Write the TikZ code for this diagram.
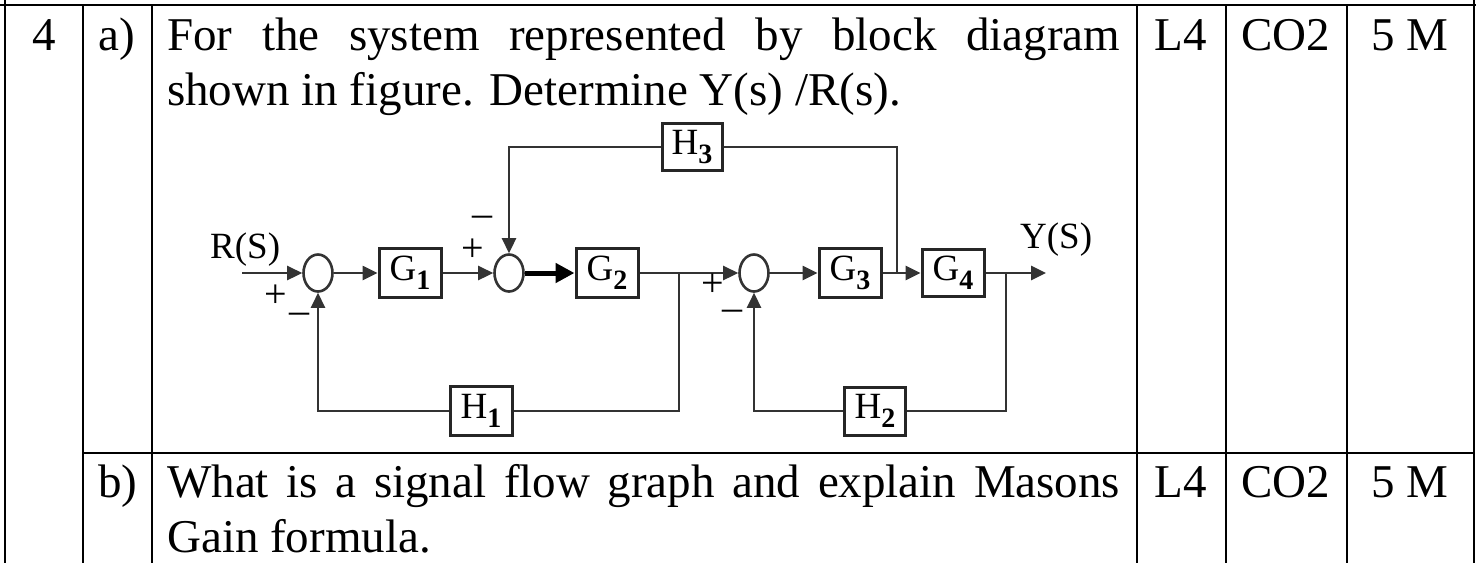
\documentclass[tikz,border=0pt]{standalone}
\usepackage{fontspec}
\setmainfont{Liberation Serif}
\usetikzlibrary{arrows.meta,shapes.geometric}
\newcommand\blklabel[2]{#1\raisebox{-9pt}{\fontsize{28}{28}\selectfont\bfseries #2}}
\begin{document}
\begin{tikzpicture}[x=1pt,y=-1pt,
  tline/.style={line width=2.4pt, draw=black},
  body/.style={font=\fontsize{47}{55}\selectfont, inner sep=0pt, anchor=base west},
  bodyc/.style={font=\fontsize{47}{55}\selectfont, inner sep=0pt, anchor=base},
  wire/.style={line width=2.6pt, draw=black!80},
  arr/.style={wire, -{Triangle[length=15pt,width=14pt]}},
  thickarr/.style={line width=5pt, draw=black, -{Triangle[length=19pt,width=19pt]}},
  block/.style={draw=black!85, line width=3pt, minimum width=62pt, minimum height=49pt, inner sep=0pt, font=\fontsize{37}{37}\selectfont, fill=white},
  sumj/.style={ellipse, draw=black!80, line width=2.6pt, minimum width=29pt, minimum height=37pt, inner sep=0pt},
  sign/.style={font=\fontsize{40}{40}\selectfont, inner sep=0pt},
  sig/.style={font=\fontsize{37}{37}\selectfont, inner sep=0pt, anchor=base west}]
\useasboundingbox (0,0) rectangle (1476,563);
% table rules
\draw[tline] (0,5) -- (1476,5);
\draw[tline] (5,0) -- (5,563);
\draw[tline] (83,5) -- (83,563);
\draw[tline] (152,5) -- (152,563);
\draw[tline] (1137,5) -- (1137,563);
\draw[tline] (1226,5) -- (1226,563);
\draw[tline] (1347,5) -- (1347,563);
\draw[tline] (1474,0) -- (1474,563);
\draw[tline] (83,453) -- (1474,453);
% table texts
\node[bodyc] (qno) at (44,50) {4};
\node[body] (qa) at (98,50) {a)};
\node[body] (qa1) at (167,50) {\makebox[953pt][s]{For the system represented by block diagram}};
\node[body] (qa2) at (167,105) {shown in figure. Determine Y(s) /R(s).};
\node[bodyc] (la) at (1181,50) {L4};
\node[bodyc] (ca) at (1286,50) {CO2};
\node[bodyc] (ma) at (1410,50) {5 M};
\node[body] (qb) at (98,497) {b)};
\node[body] (qb1) at (167,497) {\makebox[953pt][s]{What is a signal flow graph and explain Masons}};
\node[body] (qb2) at (167,552) {Gain formula.};
\node[bodyc] (lb) at (1181,497) {L4};
\node[bodyc] (cb) at (1286,497) {CO2};
\node[bodyc] (mb) at (1410,497) {5 M};
% block diagram
\coordinate (in) at (242,273);
\node[sumj] (J1) at (318,273) {};
\node[block] (G1) at (410,273) {\blklabel{G}{1}};
\node[sumj] (J2) at (509,273) {};
\node[block] (G2) at (607,273) {\blklabel{G}{2}};
\coordinate (B1) at (679,273);
\node[sumj] (J3) at (754,273) {};
\node[block] (G3) at (850,273) {\blklabel{G}{3}};
\coordinate (B3) at (897,273);
\node[block, minimum height=47pt] (G4) at (953,273) {\blklabel{G}{4}};
\coordinate (B4) at (1006,273);
\coordinate (out) at (1046,273);
\node[block, minimum height=47pt, minimum width=60pt] (H3) at (692,147) {\blklabel{H}{3}};
\node[block] (H1) at (481,411) {\blklabel{H}{1}};
\node[block, minimum height=48pt, minimum width=61pt] (H2) at (875,411) {\blklabel{H}{2}};
% forward path
\draw[arr] (in) -- (J1.west);
\draw[arr] (J1.east) -- (G1.west);
\draw[arr] (G1.east) -- (J2.west);
\draw[thickarr] (J2.east) -- (G2.west);
\draw[arr] (G2.east) -- (J3.west);
\draw[arr] (J3.east) -- (G3.west);
\draw[arr] (G3.east) -- (G4.west);
\draw[arr] (G4.east) -- (out);
% feedback paths
\draw[wire] (B1) |- (H1.east);
\draw[arr] (H1.west) -| (J1.south);
\draw[wire] (B4) |- (H2.east);
\draw[arr] (H2.west) -| (J3.south);
\draw[wire] (B3) |- (H3.east);
\draw[arr] (H3.west) -| (J2.north);
% labels
\node[sig] (rs) at (210,258) {R(S)};
\node[sig] (ys) at (1020,248) {Y(S)};
\node[sign] (p1) at (276,296) {+};
\node[sign] (m1) at (299,318) {–};
\node[sign] (p2) at (473,250) {+};
\node[sign] (m2) at (482,221) {–};
\node[sign] (p3) at (713,285) {+};
\node[sign] (m3) at (732,315) {–};
\end{tikzpicture}
\end{document}
